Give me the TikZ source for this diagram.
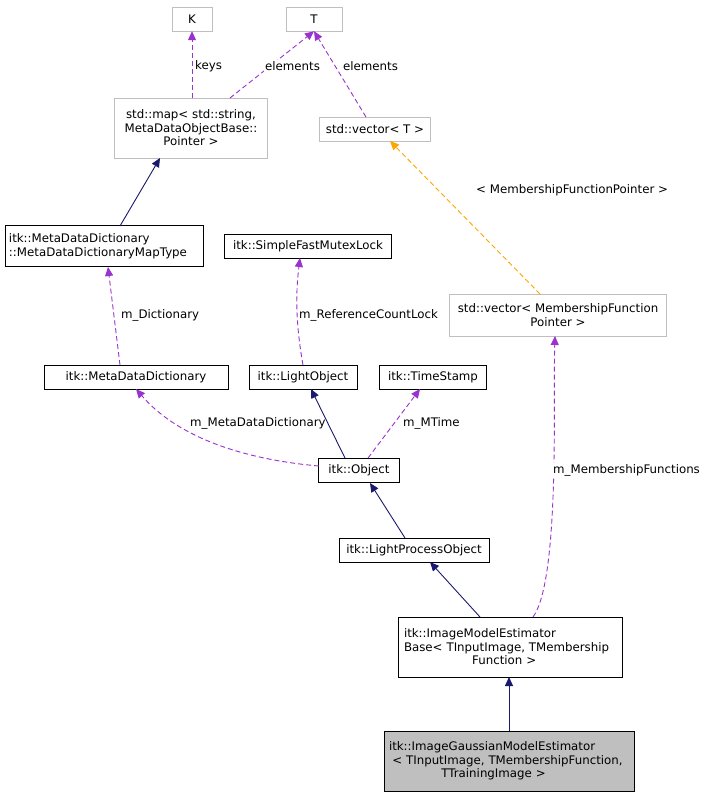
\documentclass[tikz,border=0pt]{standalone}
\usepackage{fontspec}
\setmainfont{DejaVu Sans}
\usetikzlibrary{arrows.meta}
\definecolor{navy}{HTML}{191970}
\definecolor{purp}{HTML}{9A32CD}
\definecolor{orng}{HTML}{FFA500}
\definecolor{gbox}{HTML}{BFBFBF}
\begin{document}
\begin{tikzpicture}[x=1pt,y=-1pt,
 box/.style={draw=black,fill=white,inner sep=2pt,font=\fontsize{11.8}{13.5}\selectfont,align=center,minimum height=24pt},
 gb/.style={box,draw=gbox},
 lb/.style={font=\fontsize{11.8}{13}\selectfont,fill=white,inner sep=1pt,anchor=west},
 dsh/.style={dash pattern=on 5pt off 3pt},
 inh/.style={draw=navy,-{Triangle[length=9pt,width=8pt]},line width=0.9pt},
 use/.style={draw=purp,dsh,-{Triangle[length=9pt,width=8pt]},line width=0.9pt},
 tmp/.style={draw=orng,dsh,-{Triangle[length=9pt,width=8pt]},line width=0.9pt}]
\useasboundingbox (0,0) rectangle (708,795);
\node[gb,minimum width=40pt] (K) at (192,19) {K};
\node[gb,minimum width=56pt] (T) at (314,19) {T};
\node[gb,minimum width=153pt,minimum height=60pt] (map) at (191,128) {std::map< std::string,\\MetaDataObjectBase::\\Pointer >};
\node[gb,minimum width=111pt] (vt) at (375,129) {std::vector< T >};
\node[box,minimum width=198pt,minimum height=41pt,text width=190pt,align=left] (mt) at (104,246) {itk::MetaDataDictionary\\::MetaDataDictionaryMapType};
\node[box,minimum width=167pt] (sf) at (308,246) {itk::SimpleFastMutexLock};
\node[gb,minimum width=217pt,minimum height=42pt] (vm) at (558,315) {std::vector< MembershipFunction\\Pointer >};
\node[box,minimum width=184pt] (md) at (136,377) {itk::MetaDataDictionary};
\node[box,minimum width=108pt] (lo) at (303,377) {itk::LightObject};
\node[box,minimum width=107pt] (ts) at (433,377) {itk::TimeStamp};
\node[box,minimum width=81pt] (ob) at (359,470) {itk::Object};
\node[box,minimum width=150pt] (lp) at (414,550) {itk::LightProcessObject};
\node[box,minimum width=224pt,minimum height=60pt,text width=212pt,align=left] (be) at (510,647) {itk::ImageModelEstimator\\Base< TInputImage, TMembership\\\hphantom{Base< TInp}Function >};
\node[box,fill=gbox,minimum width=250pt,minimum height=60pt,text width=240pt,align=left] (ge) at (509,761) {itk::ImageGaussianModelEstimator\\\hphantom{i}< TInputImage, TMembershipFunction,\\\hphantom{itk::Imag}TTrainingImage >};
\draw[use] (map.north -| K) -- (K);
\node[lb] (l1) at (194,66) {keys};
\draw[use] (230,98) -- (T.south);
\node[lb] (l2) at (264,66) {elements};
\draw[use] (366,117) -- (T.south);
\node[lb] (l3) at (342,66) {elements};
\draw[tmp] (540,294) -- (390,141);
\node[lb] (l4) at (475,190) {< MembershipFunctionPointer >};
\draw[inh] (120,226) -- (160,158);
\draw[use] (120,365) -- (108,267);
\node[lb] (l5) at (120,315) {m\_Dictionary};
\draw[use] (303,365) .. controls (295,320) and (296,290) .. (300,258);
\node[lb] (l6) at (298,315) {m\_ReferenceCountLock};
\draw[use] (319,466) .. controls (250,460) and (180,440) .. (136,389);
\node[lb] (l7) at (189,423) {m\_MetaDataDictionary};
\draw[inh] (345,458) -- (311,389);
\draw[use] (368,458) -- (420,389);
\node[lb] (l8) at (402,423) {m\_MTime};
\draw[inh] (405,538) -- (370,483);
\draw[inh] (480,617) -- (430,562);
\draw[use] (533,617) .. controls (560,580) and (553,400) .. (555,336);
\node[lb] (l9) at (552,470) {m\_MembershipFunctions};
\draw[inh] (509,731) -- (509,677);
\end{tikzpicture}
\end{document}
